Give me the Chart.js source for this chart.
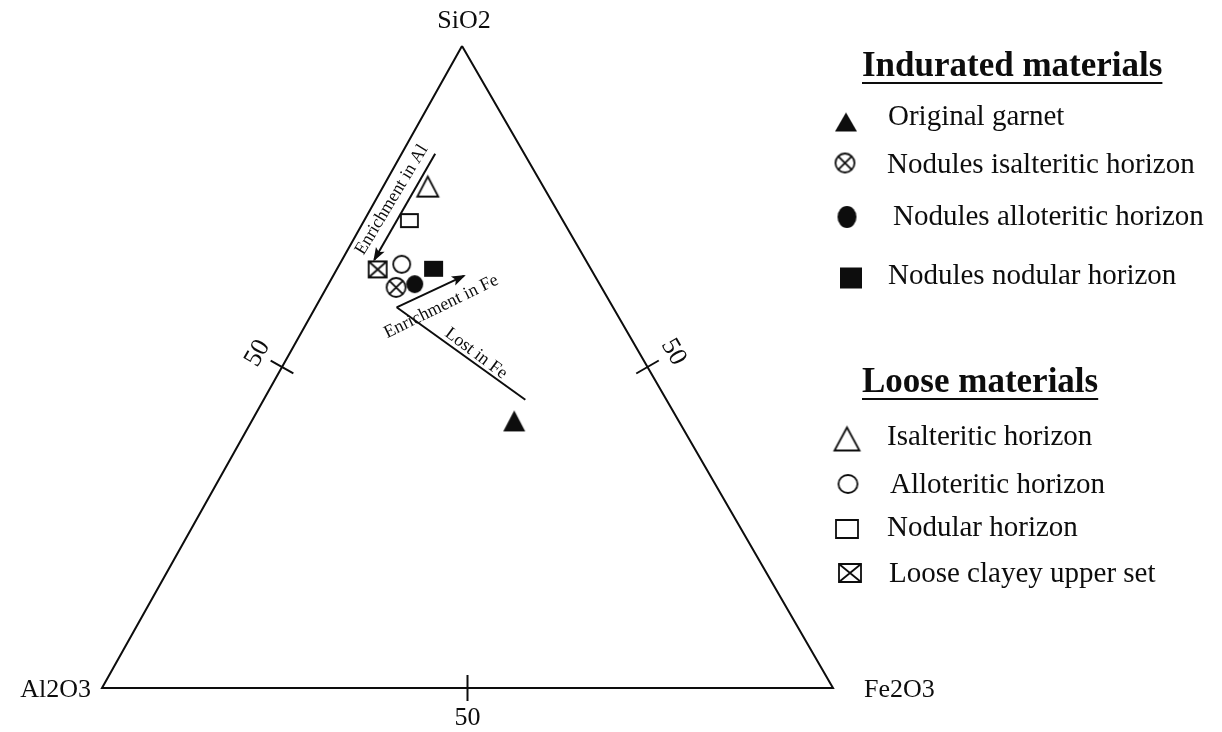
<!DOCTYPE html>
<html>
<head>
<title>SiO2 - Al2O3 - Fe2O3</title>
<script src="https://cdn.jsdelivr.net/npm/chart.js"></script>
<style>
  body { margin: 0; background: #fff; }
  #wrap { width: 1222px; height: 732px; }
</style>
</head>
<body>
<div id="wrap"><canvas id="tern" width="1222" height="732"></canvas></div>
<script>
// corners of the diagram and the 50 % marks
const apexLabels = ['SiO2', 'Al2O3', 'Fe2O3'];
const tickLabels = ['50', '50', '50'];

// samples, wt% SiO2 / Al2O3 / Fe2O3
const sampleNames = ['Original garnet', 'Nodules isalteritic horizon', 'Nodules alloteritic horizon', 'Nodules nodular horizon',
                     'Isalteritic horizon', 'Alloteritic horizon', 'Nodular horizon', 'Loose clayey upper set'];
const groupNames = ['Indurated materials', 'Loose materials'];
const sampleGroup = [0, 0, 0, 0, 1, 1, 1, 1];
const sio2  = [41.6, 62.4, 62.9, 65.3, 78.1, 66.0, 72.8, 65.2];
const al2o3 = [22.5, 28.1, 25.3, 21.5, 15.8, 25.5, 21.0, 29.2];
const fe2o3 = [35.9,  9.5, 11.8, 13.2,  6.1,  8.5,  6.2,  5.6];
const markerKinds = ['triFilled', 'circleCross', 'circleFilled', 'squareFilled', 'triOpen', 'circleOpen', 'squareOpen', 'squareCross'];

// trend lines, [SiO2, Al2O3, Fe2O3] from -> to
const trendNames = ['Enrichment in Al', 'Enrichment in Fe', 'Lost in Fe'];
const trendFrom = [[83.2, 12.2, 4.6], [59.3, 29.6, 11.1], [59.3, 29.6, 11.1]];
const trendTo   = [[66.7, 28.9, 4.4], [64.2, 17.9, 17.9], [44.9, 19.3, 35.8]];
const trendArrow = [true, true, false];

// ---- layout ----
const TOP_X = 0.4925;          // apex sits a bit left of the base middle
const INK = '#0d0d0d';
const SERIF = '"Liberation Serif", "Times New Roman", serif';

function ternXY(s, a, f) {
    return { x: (s * TOP_X + f) / 100, y: s / 100 };
}

function makeMarker(kind, w, h) {
    const pad = 3;
    const c = document.createElement('canvas');
    c.width = Math.round(w + pad * 2);
    c.height = Math.round(h + pad * 2);
    const g = c.getContext('2d');
    g.strokeStyle = INK;
    g.fillStyle = INK;
    g.lineWidth = 1.8;
    const cx = c.width / 2, cy = c.height / 2;
    const x0 = cx - w / 2, y0 = cy - h / 2;
    g.beginPath();
    if (kind.startsWith('tri')) {
        g.moveTo(cx, y0);
        g.lineTo(x0 + w, y0 + h);
        g.lineTo(x0, y0 + h);
        g.closePath();
    } else if (kind.startsWith('circle')) {
        g.ellipse(cx, cy, w / 2, h / 2, 0, 0, Math.PI * 2);
    } else {
        g.rect(x0, y0, w, h);
    }
    if (kind.endsWith('Filled')) g.fill(); else g.stroke();
    if (kind === 'circleCross') {
        const r = 0.7071;
        g.beginPath();
        g.moveTo(cx - w / 2 * r, cy - h / 2 * r); g.lineTo(cx + w / 2 * r, cy + h / 2 * r);
        g.moveTo(cx + w / 2 * r, cy - h / 2 * r); g.lineTo(cx - w / 2 * r, cy + h / 2 * r);
        g.stroke();
    }
    if (kind === 'squareCross') {
        g.beginPath();
        g.moveTo(x0, y0); g.lineTo(x0 + w, y0 + h);
        g.moveTo(x0 + w, y0); g.lineTo(x0, y0 + h);
        g.stroke();
    }
    return c;
}

// marker sizes on the plot and in the legend
const plotSize = { triFilled: [22, 21], circleCross: [19, 19], circleFilled: [17, 18], squareFilled: [19, 16],
                   triOpen: [21, 20], circleOpen: [17, 17], squareOpen: [17, 13], squareCross: [18, 16] };
const legendSize = { triFilled: [22, 19], circleCross: [19, 19], circleFilled: [19, 22], squareFilled: [22, 21],
                     triOpen: [25, 23], circleOpen: [19, 18], squareOpen: [22, 18], squareCross: [22, 18] };

// legend rows: text x, text middle y, marker x, marker y
const legendRows = [
    [888, 117, 846, 122], [887, 165, 845, 163], [893, 217, 847, 217], [888, 276, 851, 278],
    [887, 437, 847, 439], [890, 485, 848, 484], [887, 528, 847, 529], [889, 574, 850, 573]
];
const legendTitles = [[862, 67], [862, 383]];

const datasets = [];
const frame = [ternXY(100, 0, 0), ternXY(0, 0, 100), ternXY(0, 100, 0), ternXY(100, 0, 0)];
datasets.push({ label: 'frame', data: frame, showLine: true, borderColor: INK, borderWidth: 2,
                borderJoinStyle: 'miter', pointRadius: 0, fill: false });
trendNames.forEach(function(name, i) {
    datasets.push({
        label: name,
        data: [ternXY.apply(null, trendFrom[i]), ternXY.apply(null, trendTo[i])],
        showLine: true, borderColor: INK, borderWidth: 2, pointRadius: 0, fill: false
    });
});
sampleNames.forEach(function(name, i) {
    const k = markerKinds[i];
    datasets.push({
        label: name,
        data: [ternXY(sio2[i], al2o3[i], fe2o3[i])],
        pointStyle: makeMarker(k, plotSize[k][0], plotSize[k][1]),
        showLine: false
    });
});

function drawText(ctx, text, x, y, size, opts) {
    opts = opts || {};
    ctx.save();
    ctx.translate(x, y);
    if (opts.rot) ctx.rotate(opts.rot * Math.PI / 180);
    ctx.font = (opts.bold ? 'bold ' : '') + size + 'px ' + SERIF;
    ctx.fillStyle = INK;
    ctx.textAlign = opts.align || 'center';
    ctx.textBaseline = 'middle';
    ctx.fillText(text, 0, 0);
    ctx.restore();
}

const decor = {
    id: 'decor',
    afterDatasetsDraw(chart) {
        const ctx = chart.ctx;
        const sx = chart.scales.x, sy = chart.scales.y;
        const px = function(p) { return [sx.getPixelForValue(p.x), sy.getPixelForValue(p.y)]; };

        // arrow heads and trend labels
        const labelShift = [[-13, -7, -59], [11, 15, -26], [15, 0, 37]];
        trendNames.forEach(function(name, i) {
            const pts = chart.getDatasetMeta(1 + i).data;
            const a = [pts[0].x, pts[0].y], b = [pts[1].x, pts[1].y];
            if (trendArrow[i]) {
                const ang = Math.atan2(b[1] - a[1], b[0] - a[0]);
                ctx.save();
                ctx.translate(b[0], b[1]);
                ctx.rotate(ang);
                ctx.fillStyle = INK;
                ctx.beginPath();
                ctx.moveTo(2, 0);
                ctx.lineTo(-12, -5);
                ctx.lineTo(-9, 0);
                ctx.lineTo(-12, 5);
                ctx.closePath();
                ctx.fill();
                ctx.restore();
            }
            const m = [(a[0] + b[0]) / 2, (a[1] + b[1]) / 2];
            const sh = labelShift[i];
            drawText(ctx, name, m[0] + sh[0], m[1] + sh[1], 18, { rot: sh[2] });
        });

        // 50 % ticks on the three sides
        const mids = [ternXY(50, 50, 0), ternXY(50, 0, 50), ternXY(0, 50, 50)];
        const ends = [[ternXY(100, 0, 0), ternXY(0, 100, 0)], [ternXY(100, 0, 0), ternXY(0, 0, 100)], [ternXY(0, 100, 0), ternXY(0, 0, 100)]];
        const labelOut = [28, 30, 30];
        const labelRot = [-60, 60, 0];
        mids.forEach(function(mp, i) {
            const m = px(mp), e0 = px(ends[i][0]), e1 = px(ends[i][1]);
            let dx = e1[0] - e0[0], dy = e1[1] - e0[1];
            const len = Math.hypot(dx, dy);
            dx /= len; dy /= len;
            let nx = -dy, ny = dx;
            // outward normal: away from the triangle centre
            const c = px(ternXY(33.3, 33.3, 33.4));
            if ((m[0] - c[0]) * nx + (m[1] - c[1]) * ny < 0) { nx = -nx; ny = -ny; }
            ctx.save();
            ctx.strokeStyle = INK;
            ctx.lineWidth = 2;
            ctx.beginPath();
            ctx.moveTo(m[0] - nx * 13, m[1] - ny * 13);
            ctx.lineTo(m[0] + nx * 13, m[1] + ny * 13);
            ctx.stroke();
            ctx.restore();
            drawText(ctx, tickLabels[i], m[0] + nx * labelOut[i], m[1] + ny * labelOut[i], 26, { rot: labelRot[i] });
        });

        // corner names
        const top = px(ternXY(100, 0, 0)), left = px(ternXY(0, 100, 0)), right = px(ternXY(0, 0, 100));
        drawText(ctx, apexLabels[0], top[0] + 2, top[1] - 25, 26);
        drawText(ctx, apexLabels[1], left[0] - 11, left[1] + 2, 26, { align: 'right' });
        drawText(ctx, apexLabels[2], right[0] + 31, right[1] + 2, 26, { align: 'left' });

        // legend
        groupNames.forEach(function(g, i) {
            const t = legendTitles[i];
            ctx.save();
            ctx.font = 'bold 35px ' + SERIF;
            const w = ctx.measureText(g).width;
            ctx.restore();
            drawText(ctx, g, t[0], t[1], 35, { bold: true, align: 'left' });
            ctx.save();
            ctx.strokeStyle = INK;
            ctx.lineWidth = 2;
            ctx.beginPath();
            ctx.moveTo(t[0], t[1] + 16);
            ctx.lineTo(t[0] + w, t[1] + 16);
            ctx.stroke();
            ctx.restore();
        });
        sampleNames.forEach(function(name, i) {
            const r = legendRows[i];
            const k = markerKinds[i];
            const img = makeMarker(k, legendSize[k][0], legendSize[k][1]);
            ctx.drawImage(img, r[2] - img.width / 2, r[3] - img.height / 2);
            drawText(ctx, name, r[0], r[1], 29, { align: 'left' });
        });
    }
};

new Chart(document.getElementById('tern'), {
    type: 'scatter',
    data: { datasets: datasets },
    options: {
        responsive: false,
        animation: false,
        events: [],
        layout: { padding: 0, autoPadding: false },
        plugins: { legend: { display: false }, tooltip: { enabled: false } },
        scales: {
            x: { type: 'linear', display: false, min: -102 / 731, max: (1222 - 102) / 731 },
            y: { type: 'linear', display: false, min: (688 - 732) / 642, max: 688 / 642 }
        }
    },
    plugins: [decor]
});
</script>
</body>
</html>
